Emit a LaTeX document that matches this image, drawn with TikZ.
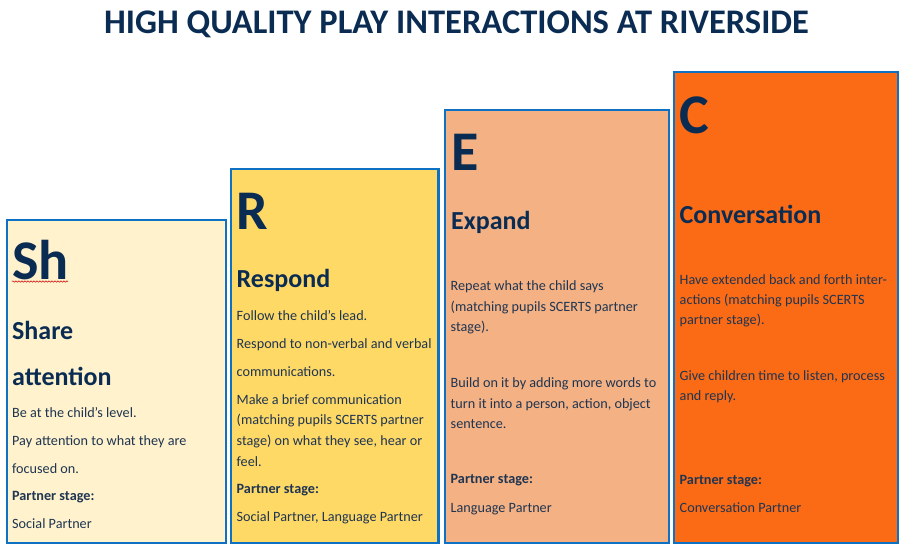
\documentclass[tikz,border=0pt]{standalone}
\usepackage{fontspec}
\setmainfont{Carlito}
\usepackage{xcolor}
\usetikzlibrary{decorations.pathmorphing}
\definecolor{inkblue}{HTML}{0B2C52}
\definecolor{bodyblue}{HTML}{1F3552}
\definecolor{edgeblue}{HTML}{0F71C4}
\definecolor{stepa}{HTML}{FFF2CC}
\definecolor{stepb}{HTML}{FFD966}
\definecolor{stepc}{HTML}{F4B183}
\definecolor{stepd}{HTML}{FB6A15}
\tikzset{
  txt/.style={anchor=base west,inner sep=0pt,text=bodyblue},
  letter/.style={txt,text=inkblue,font=\fontsize{56}{56}\selectfont\bfseries},
  head/.style={txt,text=inkblue,font=\fontsize{26}{26}\selectfont\bfseries},
  body/.style={txt,font=\fontsize{14.2}{14.2}\selectfont},
  bodyb/.style={txt,font=\fontsize{14.2}{14.2}\selectfont\bfseries},
  stepbox/.style={draw=edgeblue,line width=2.3pt}
}
\begin{document}
\begin{tikzpicture}[x=1pt,y=-1pt]
  \useasboundingbox (0,0) rectangle (905,550);
  \node[anchor=base,inner sep=0pt,text=inkblue,font=\fontsize{34.5}{34.5}\selectfont\bfseries] (title) at (456.5,33) {HIGH QUALITY PLAY INTERACTIONS AT RIVERSIDE};

  \filldraw[stepbox,fill=stepa] (7,220) rectangle (226,543);
  \filldraw[stepbox,fill=stepb] (231,169) rectangle (438.5,543);
  \filldraw[stepbox,fill=stepc] (445,110) rectangle (669,543);
  \filldraw[stepbox,fill=stepd] (674,72) rectangle (898,543);

  % first step
  \node[letter] (sh) at (12,279.5) {Sh};
  \draw[red!80!black,line width=0.5pt,decorate,decoration={snake,amplitude=0.7pt,segment length=3pt}] (12,281.5) -- (68,281.5);
  \node[head] (share) at (12,339) {Share};
  \node[head] (attention) at (12,385) {attention};
  \node[body] (sa) at (12,417) {Be at the child’s level.};
  \node[body] (sb) at (12,445) {Pay attention to what they are};
  \node[body] (sc) at (12,473) {focused on.};
  \node[bodyb] (sd) at (12,500) {Partner stage:};
  \node[body] (se) at (12,528) {Social Partner};

  % second step
  \node[letter] (r) at (236.5,229) {R};
  \node[head] (respond) at (236.5,287) {Respond};
  \node[body] (ra) at (236.5,320) {Follow the child’s lead.};
  \node[body] (rb) at (236.5,348) {Respond to non-verbal and verbal};
  \node[body] (rc) at (236.5,376) {communications.};
  \node[body] (rd) at (236.5,404) {Make a brief communication};
  \node[body] (re) at (236.5,424) {(matching pupils SCERTS partner};
  \node[body] (rf) at (236.5,445) {stage) on what they see, hear or};
  \node[body] (rg) at (236.5,466) {feel.};
  \node[bodyb] (rh) at (236.5,493.5) {Partner stage:};
  \node[body] (ri) at (236.5,521) {Social Partner, Language Partner};

  % third step
  \node[letter] (e) at (451,170) {E};
  \node[head] (expand) at (451,229) {Expand};
  \node[body] (ea) at (450.5,290) {Repeat what the child says};
  \node[body] (eb) at (450.5,311) {(matching pupils SCERTS partner};
  \node[body] (ec) at (450.5,331) {stage).};
  \node[body] (ed) at (450.5,387) {Build on it by adding more words to};
  \node[body] (ee) at (450.5,408) {turn it into a person, action, object};
  \node[body] (ef) at (450.5,428) {sentence.};
  \node[bodyb] (eg) at (450.5,483.5) {Partner stage:};
  \node[body] (eh) at (450.5,512) {Language Partner};

  % fourth step
  \node[letter] (c) at (679.5,133) {C};
  \node[head] (conversation) at (679.5,223) {Conversation};
  \node[body] (ca) at (679.5,284) {Have extended back and forth inter-};
  \node[body] (cb) at (679.5,304) {actions (matching pupils SCERTS};
  \node[body] (cc) at (679.5,324) {partner stage).};
  \node[body] (cd) at (679.5,380) {Give children time to listen, process};
  \node[body] (ce) at (679.5,400) {and reply.};
  \node[bodyb] (cf) at (679.5,484) {Partner stage:};
  \node[body] (cg) at (679.5,512) {Conversation Partner};
\end{tikzpicture}
\end{document}
